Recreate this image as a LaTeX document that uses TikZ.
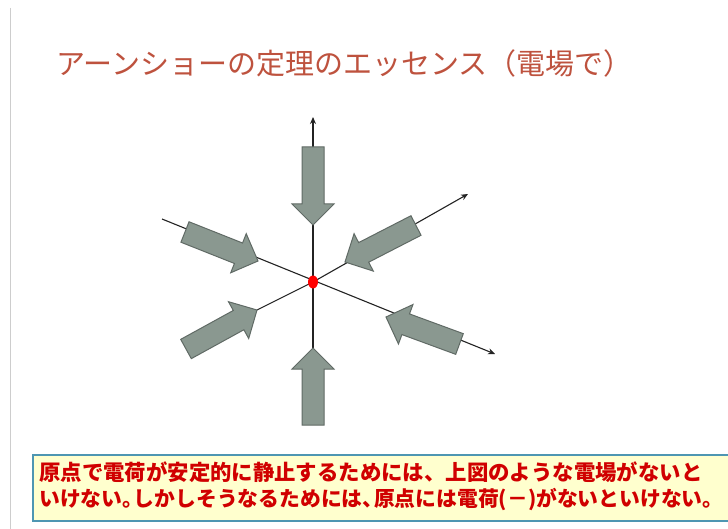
\documentclass[tikz,border=0pt]{standalone}
\usepackage{fontspec}
\newfontfamily\cjk{Noto Sans CJK JP}
\usetikzlibrary{arrows.meta,calc,shapes.geometric}
\definecolor{titlecol}{RGB}{190,82,62}
\definecolor{axiscol}{RGB}{35,35,35}
\definecolor{blkfill}{RGB}{138,152,144}
\definecolor{blkdraw}{RGB}{96,106,101}
\definecolor{boxborder}{RGB}{78,150,178}
\definecolor{boxfill}{RGB}{255,255,206}
\definecolor{boxtext}{RGB}{208,0,0}
\definecolor{rulecol}{RGB}{205,205,205}
\tikzset{
  axisline/.style={draw=axiscol, line width=1.1pt, -{Stealth[length=7pt,width=6pt]}},
  blockarrow/.style={fill=blkfill, draw=blkdraw, line width=1pt, line join=miter},
  notebox/.style={draw=boxborder, line width=2pt, fill=boxfill, inner sep=0pt},
  notetext/.style={text=boxtext, font=\cjk\bfseries, inner sep=0pt, anchor=west},
}
\newcommand\blockarr[2]{%
  \path (#1) coordinate (bS) (#2) coordinate (bT) ($(bT)!21pt!(bS)$) coordinate (bH);
  \draw[blockarrow] (bT) -- ($(bH)!21pt!90:(bT)$) -- ($(bH)!11pt!90:(bT)$)
    -- ($(bS)!11pt!90:(bT)$) -- ($(bS)!11pt!-90:(bT)$) -- ($(bH)!11pt!-90:(bT)$)
    -- ($(bH)!21pt!-90:(bT)$) -- cycle;}
\newcommand\hpunct[1]{#1\hspace{-0.45em}}
\begin{document}
\begin{tikzpicture}[x=1pt,y=-1pt]
\useasboundingbox (0,0) rectangle (728,529);
\fill[white] (0,0) rectangle (728,529);
\draw[rulecol, line width=1.5pt] (10.5,8) -- (10.5,529);
% title
\node[anchor=west, text=titlecol, font=\cjk\fontsize{29}{34}\selectfont, inner sep=0pt] (title) at (56,63) {アーンショーの定理のエッセンス（電場で）};
% coordinates
\coordinate (O) at (313,282);
\coordinate (vtop) at (313,117);
\coordinate (vbot) at (313,348);
\coordinate (ulS) at (162,219);
\coordinate (lrE) at (495,354);
\coordinate (llS) at (257,310);
\coordinate (urE) at (468,194);
% axes
\draw[axisline] (vbot) -- (vtop);
\draw[axisline] (ulS) -- (lrE);
\draw[axisline] (llS) -- (O) -- (urE);
% block arrows
\coordinate (tT) at (313,225); \coordinate (tS) at (313,147);
\coordinate (bT0) at (313,348); \coordinate (bS0) at (313,425);
\coordinate (ulT) at (258,261); \coordinate (ulTail) at (185,232);
\coordinate (urT) at (345,262); \coordinate (urTail) at (416,225.5);
\coordinate (llT) at (257,310); \coordinate (llTail) at (186,349);
\coordinate (lrT) at (386,317); \coordinate (lrTail) at (459.5,344);
\blockarr{tS}{tT}
\blockarr{bS0}{bT0}
\blockarr{ulTail}{ulT}
\blockarr{urTail}{urT}
\blockarr{llTail}{llT}
\blockarr{lrTail}{lrT}
% red dot
\node[ellipse, fill=red, minimum width=10pt, minimum height=13pt, inner sep=0pt] (dot) at (O) {};
% note box
\node[notebox, anchor=north west, minimum width=720pt, minimum height=66pt] (box) at (32,454) {};
\node[notetext, font=\cjk\bfseries\fontsize{21.4}{24}\selectfont] (line1) at (39,472) {原点で電荷が安定的に静止するためには、上図のような電場がないと};
\node[notetext, font=\cjk\bfseries\fontsize{20.8}{24}\selectfont] (line2) at (39,500) {いけない\hpunct{。}しかしそうなるためには\hpunct{、}原点には電荷(－)がないといけない。};
\end{tikzpicture}
\end{document}
